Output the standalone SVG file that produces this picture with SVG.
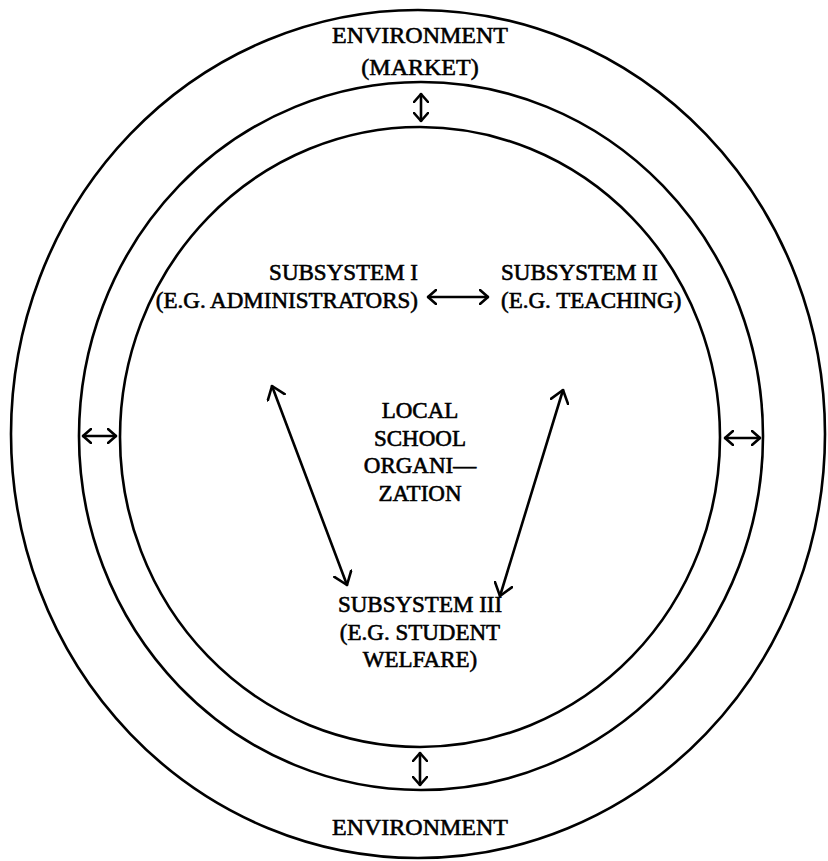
<svg xmlns="http://www.w3.org/2000/svg" width="828" height="861" viewBox="0 0 828 861">
<style>
.ring{fill:none;stroke:#000;stroke-width:2.6}
.t{font-family:"Liberation Serif","Times New Roman",serif;font-size:23px;fill:#000;stroke:#000;stroke-width:0.6}
.big{font-size:24px}
.c{text-anchor:middle}
.e{text-anchor:end}
.a{fill:none;stroke:#000;stroke-width:2.6;stroke-linecap:round;stroke-linejoin:round}
</style>
<defs>
<marker id="h" viewBox="0 0 10 16" refX="9" refY="8" markerWidth="10" markerHeight="16" markerUnits="userSpaceOnUse" orient="auto-start-reverse">
<path d="M1,1 L9,8 L1,15" fill="none" stroke="#000" stroke-width="2.6" stroke-linecap="round" stroke-linejoin="round"/>
</marker>
<marker id="H" viewBox="0 0 14 20" refX="13" refY="10" markerWidth="14" markerHeight="20" markerUnits="userSpaceOnUse" orient="auto-start-reverse">
<path d="M1,1 L13,10 L1,19" fill="none" stroke="#000" stroke-width="2.6" stroke-linecap="round" stroke-linejoin="round"/>
</marker>
</defs>
<rect width="828" height="861" fill="#fff"/>
<g id="environment">
<ellipse class="ring" cx="418" cy="434" rx="407" ry="424"/>
<text class="t big c" x="420" y="43">ENVIRONMENT</text>
<text class="t big c" x="420" y="75">(MARKET)</text>
<text class="t big c" x="420" y="835">ENVIRONMENT</text>
</g>
<g id="boundary">
<ellipse class="ring" cx="421" cy="436" rx="342" ry="354"/>
</g>
<g id="organization">
<ellipse class="ring" cx="420" cy="437" rx="300" ry="310"/>
<text class="t c" x="420" y="418">LOCAL</text>
<text class="t c" x="420" y="446">SCHOOL</text>
<text class="t c" x="420" y="473">ORGANI—</text>
<text class="t c" x="420" y="501">ZATION</text>
</g>
<g id="subsystem1">
<text class="t e" x="418" y="280">SUBSYSTEM I</text>
<text class="t e" x="418" y="308">(E.G. ADMINISTRATORS)</text>
</g>
<g id="subsystem2">
<text class="t" x="501" y="280">SUBSYSTEM II</text>
<text class="t" x="501" y="308">(E.G. TEACHING)</text>
</g>
<g id="subsystem3">
<text class="t c" x="420" y="612">SUBSYSTEM III</text>
<text class="t c" x="420" y="640">(E.G. STUDENT</text>
<text class="t c" x="420" y="667">WELFARE)</text>
</g>
<g id="connectors">
<line class="a" x1="421" y1="94" x2="421" y2="121" marker-start="url(#h)" marker-end="url(#h)"/>
<line class="a" x1="420" y1="753" x2="420" y2="785" marker-start="url(#h)" marker-end="url(#h)"/>
<line class="a" x1="83" y1="436" x2="116" y2="436" marker-start="url(#h)" marker-end="url(#h)"/>
<line class="a" x1="725" y1="438" x2="760" y2="438" marker-start="url(#h)" marker-end="url(#h)"/>
<line class="a" x1="428" y1="297" x2="488" y2="297" marker-start="url(#h)" marker-end="url(#h)"/>
<line class="a" x1="272" y1="386" x2="347" y2="585" marker-start="url(#H)" marker-end="url(#H)"/>
<line class="a" x1="563" y1="390" x2="500" y2="596" marker-start="url(#H)" marker-end="url(#H)"/>
</g>
</svg>
